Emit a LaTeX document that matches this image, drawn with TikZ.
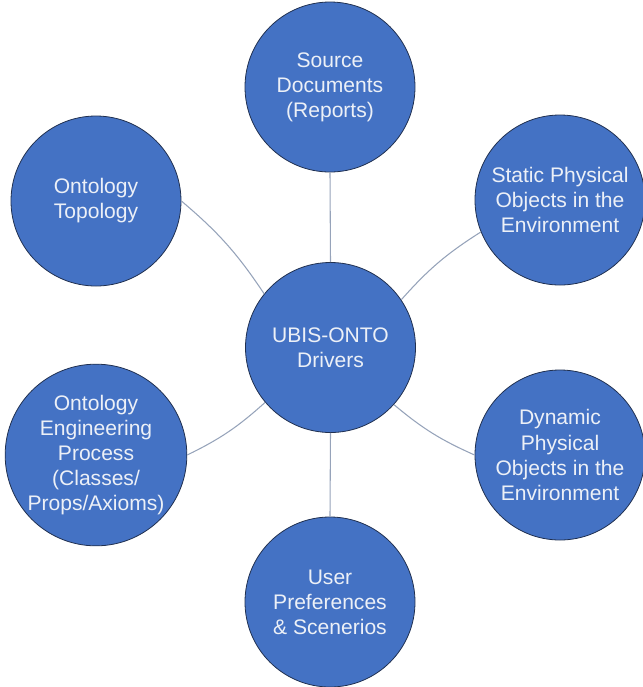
\documentclass[tikz,border=0pt]{standalone}
\usepackage{fontspec}
\setmainfont{Liberation Sans}
\definecolor{discfill}{RGB}{68,114,196}
\definecolor{discedge}{RGB}{32,48,80}
\definecolor{disctext}{RGB}{236,240,247}
\definecolor{spoke}{RGB}{150,163,186}
\begin{document}
\begin{tikzpicture}[x=0.75pt,y=-0.75pt,
  disc/.style={circle, fill=discfill, draw=discedge, line width=0.6pt,
    minimum size=127.5pt, inner sep=0pt, align=center, text=disctext,
    font=\fontsize{15.8}{18.8}\selectfont},
  spokeline/.style={draw=spoke, line width=0.8pt}]
\useasboundingbox (0,0) rectangle (643,687);

% hub and the six driver discs
\node[disc] (hub)  at (330.5,347.5) {UBIS-ONTO\\Drivers};
\node[disc] (src)  at (330,87)      {Source\\Documents\\(Reports)};
\node[disc] (stat) at (560,200)     {Static Physical\\Objects in the\\Environment};
\node[disc] (dyn)  at (560,455)     {Dynamic\\Physical\\Objects in the\\Environment};
\node[disc] (user) at (330,602)     {User\\Preferences\\\& Scenerios};
\node[disc] (eng)  at (96,455)      {Ontology\\Engineering\\Process\\(Classes/\\Props/Axioms)};
\node[disc] (topo) at (96,201)      {Ontology\\Topology};

% spokes from the hub
\draw[spokeline] (hub.north) -- (src.south);
\draw[spokeline] (hub.south) -- (user.north);
\draw[spokeline] (hub.34)  to[bend left=8]  (stat.202);
\draw[spokeline] (hub.-42) to[bend right=8] (dyn.west);
\draw[spokeline] (hub.220) to[bend left=8]  (eng.east);
\draw[spokeline] (hub.141) to[bend right=8] (topo.east);
\end{tikzpicture}
\end{document}
